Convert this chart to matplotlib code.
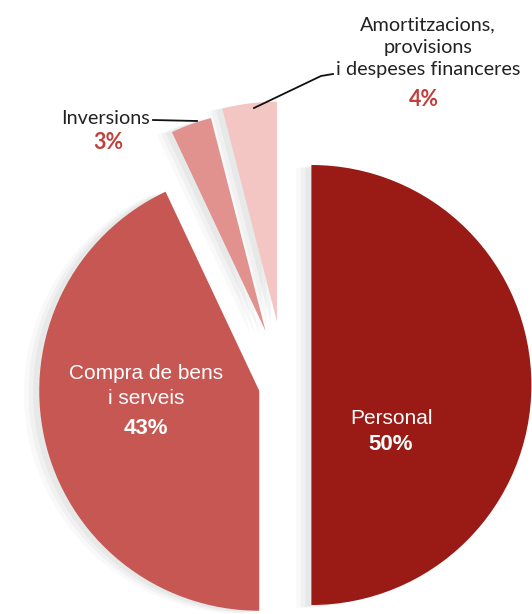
import matplotlib
matplotlib.use("Agg")
import matplotlib.pyplot as plt
import matplotlib.patches as mpatches

categories = ["Personal", "Compra de bens\ni serveis", "Inversions", "Amortitzacions,\nprovisions\ni despeses financeres"]
values = [50, 43, 3, 4]
pct_labels = ["50%", "43%", "3%", "4%"]
colors = ["#9a1b15", "#c75753", "#e1918e", "#f3c5c3"]
explode = [0.12, 0.12, 0.26, 0.29]

W, H = 532, 614
R = 220.0
cx, cy = 285.0, 385.0  # pie centre in image pixels

fig = plt.figure(figsize=(W / 100, H / 100), dpi=100)
fig.patch.set_facecolor("white")
ax = fig.add_axes([0, 0, 1, 1])

wedges, _ = ax.pie(values, colors=colors, explode=explode, startangle=90,
                   counterclock=False, radius=1.0, center=(0, 0),
                   wedgeprops=dict(linewidth=0))

ax.set_xlim(-cx / R, (W - cx) / R)
ax.set_ylim(-(H - cy) / R, cy / R)
ax.set_aspect("equal", adjustable="datalim")
ax.axis("off")

def px(x, y):
    return ((x - cx) / R, (cy - y) / R)

# soft grey shadows
for w in wedges:
    for k, a in [(0.05, 0.05), (0.035, 0.07), (0.02, 0.09)]:
        s = mpatches.Shadow(w, -k, -k * 0.2, color="#8a9090", alpha=a, zorder=w.get_zorder() - 0.5)
        ax.add_patch(s)

fam_out = ["Lato", "DejaVu Sans"]
fam_in = ["Liberation Sans Narrow", "Liberation Sans", "DejaVu Sans"]
red_txt = "#c0403b"

# Amortitzacions label
ax.text(*px(428, 47), categories[3], ha="center", va="center", fontsize=14.3,
        family=fam_out, color="#222222", linespacing=1.4)
ax.text(*px(424, 100), pct_labels[3], ha="center", va="center", fontsize=15.5,
        family=fam_out, color=red_txt, fontweight="bold")
lx, ly = zip(px(333, 74), px(321, 76), px(254, 108))
ax.plot(lx, ly, color="#111111", lw=1.3)

# Inversions label
ax.text(*px(150, 118), categories[2], ha="right", va="center", fontsize=14.3,
        family=fam_out, color="#222222")
ax.text(*px(108, 143), pct_labels[2], ha="center", va="center", fontsize=15.5,
        family=fam_out, color=red_txt, fontweight="bold")
lx, ly = zip(px(153, 120), px(197, 121))
ax.plot(lx, ly, color="#111111", lw=1.3)

# inside labels
ax.text(*px(146, 386), categories[1], ha="center", va="center", fontsize=15,
        family=fam_in, color="white", linespacing=1.4)
ax.text(*px(146, 428), pct_labels[1], ha="center", va="center", fontsize=16,
        family=fam_in, color="white", fontweight="bold")
ax.text(*px(391, 418), categories[0], ha="center", va="center", fontsize=15,
        family=fam_in, color="white")
ax.text(*px(391, 445), pct_labels[0], ha="center", va="center", fontsize=16,
        family=fam_in, color="white", fontweight="bold")

fig.savefig("out.png", dpi=100, facecolor="white")
